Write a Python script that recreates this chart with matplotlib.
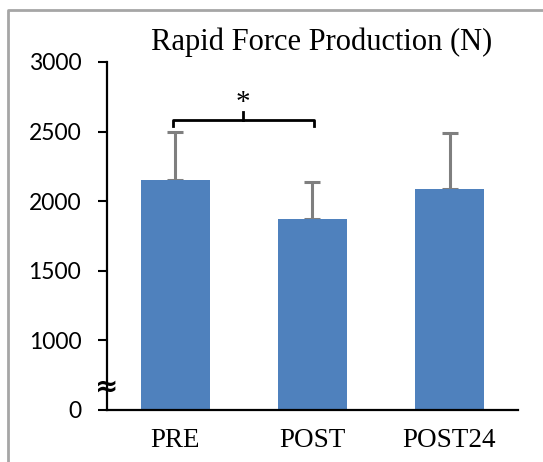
import numpy as np
import matplotlib
matplotlib.use("Agg")
import matplotlib.pyplot as plt
from matplotlib.lines import Line2D

# data
groups = ["PRE", "POST", "POST24"]
means = [2150, 1870, 2090]
sd = [350, 270, 400]
yticks = [0, 1000, 1500, 2000, 2500, 3000]

# significance bracket PRE vs POST
sig_pair = (0, 1)
sig_y = 2580

bar_color = "#4F81BD"
err_color = "#7F7F7F"


# broken axis: 0-1000 shown compressed to half height
def fwd(v):
    v = np.asarray(v, dtype=float)
    return np.where(v < 1000, v * 0.5, v - 500)


def inv(u):
    u = np.asarray(u, dtype=float)
    return np.where(u < 500, u * 2, u + 500)


fig = plt.figure(figsize=(5.43, 4.62), dpi=100)
ax = fig.add_axes([0.197, 0.1126, 0.757, 0.7534])
ax.set_yscale("function", functions=(fwd, inv))

x = np.arange(len(groups))
ax.bar(x, means, width=0.5, color=bar_color, zorder=2)
ax.errorbar(x, means, yerr=[np.zeros(len(sd)), sd], fmt="none",
            ecolor=err_color, elinewidth=2.2, capsize=6, capthick=2.2, zorder=1)

ax.set_xlim(-0.5, 2.5)
ax.set_ylim(0, 3000)
ax.set_yticks(yticks)
ax.set_yticklabels([str(t) for t in yticks], family="Lato", fontsize=16.5)
ax.set_xticks(x)
ax.set_xticklabels(groups, family="Liberation Serif", fontsize=19.5)
ax.tick_params(axis="x", length=0, pad=13)
ax.tick_params(axis="y", direction="out", length=6.5, width=1.5, pad=12)

for s in ["top", "right"]:
    ax.spines[s].set_visible(False)
for s in ["left", "bottom"]:
    ax.spines[s].set_linewidth(1.6)
    ax.spines[s].set_color("black")

# break marks on the y axis
ax.text(0.0, 340, "\u2248", transform=ax.get_yaxis_transform(),
        ha="center", va="center", fontsize=20, fontweight="bold",
        family="DejaVu Sans")

# bracket with asterisk
x0, x1 = sig_pair[0] - 0.02, sig_pair[1] + 0.01
xm = (x0 + x1) / 2
ax.plot([x0, x0, x1, x1], [sig_y - 43, sig_y, sig_y, sig_y - 43],
        color="black", lw=2, clip_on=False)
ax.plot([xm, xm], [sig_y, sig_y + 58], color="black", lw=2, clip_on=False)
ax.text(xm, sig_y + 75, "*", ha="center", va="baseline",
        family="Liberation Serif", fontsize=21)

fig.text(0.593, 0.909, "Rapid Force Production (N)", ha="center", va="center",
         family="Liberation Serif", fontsize=22)

# grey frame on top and left like the pasted-in source
fig.add_artist(Line2D([8 / 543, 8 / 543, 1], [0, 1 - 10 / 462, 1 - 10 / 462],
                      transform=fig.transFigure, color="#A6A6A6", lw=2))

fig.savefig("out.png", dpi=100)
